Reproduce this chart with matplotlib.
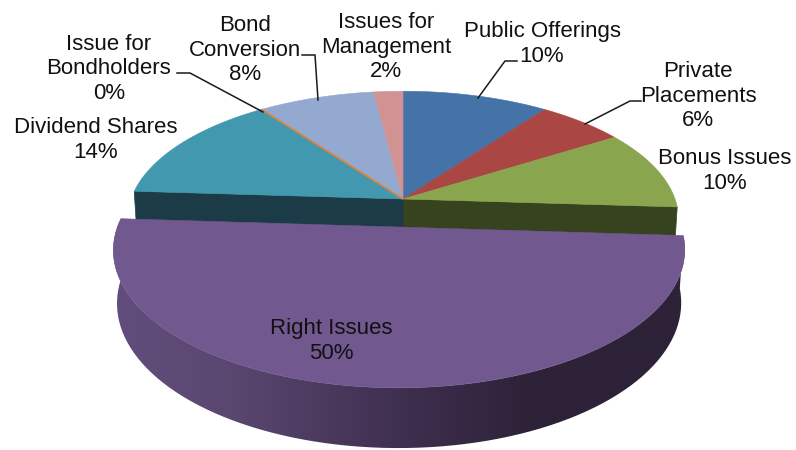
import numpy as np
import matplotlib
matplotlib.use('Agg')
import matplotlib.pyplot as plt
from matplotlib.colors import to_rgb
from matplotlib.patches import Polygon

# issue types, clockwise from 12 o'clock
names = ['Public Offerings', 'Private\nPlacements', 'Bonus Issues', 'Right Issues',
         'Dividend Shares', 'Issue for\nBondholders', 'Bond\nConversion', 'Issues for\nManagement']
shares = [10, 6, 10, 50, 14, 0, 8, 2]

colors = ['#4572A7', '#AA4643', '#89A54E', '#71588F', '#4198AF', '#DB843D', '#93A9CF', '#D19392']
wall_colors = {2: '#37421F', 4: '#1B3C47'}
exploded = 3

# label centres in pixels
label_x = [542, 698, 725, 331, 96, 109, 245, 386]
label_y = [44, 96, 171, 341, 140, 69, 50, 47]

# leader lines as pixel paths
leaders = [
    ([517, 505, 478], [61, 61, 98]),
    ([641, 630, 585], [101, 101, 124]),
    ([177, 190, 263], [73, 73, 112]),
    ([302, 315, 318], [55, 55, 100]),
]

# disc projection
cx, cy = 403, 199
rx, ry = 272, 125
persp = 0.16
persp_z = 0.012
depth = 51.5
pull = 0.217


def project(px, py, z=0.0):
    w = 1 + persp * py + persp_z * z
    return cx + rx * px / w, cy + (-ry * py + depth * z) / w


def rim(start, end, n=120):
    a = np.radians(np.linspace(start, end, n))
    return np.sin(a), np.cos(a)


def offset(i, mid):
    if i != exploded:
        return 0.0, 0.0
    return pull * np.sin(np.radians(mid)), pull * np.cos(np.radians(mid))


def wall_gradient(x):
    stops_x = [120, 230, 400, 530, 690]
    stops = [to_rgb(c) for c in ['#614D7B', '#5A4770', '#3F2F50', '#2D2238', '#2D2238']]
    return np.stack([np.interp(x, stops_x, [s[j] for s in stops]) for j in range(3)], axis=-1)


fig = plt.figure(figsize=(7.96, 4.5), dpi=100)
ax = fig.add_axes([0, 0, 1, 1])

edges = np.cumsum([0] + shares) * 3.6

# cut faces of the slices either side of the pulled-out one
for i, a in [(2, edges[3]), (4, edges[4])]:
    px, py = np.sin(np.radians(a)), np.cos(np.radians(a))
    x0, y0 = project(0, 0)
    x1, y1 = project(px, py)
    x2, y2 = project(px, py, 1)
    x3, y3 = project(0, 0, 1)
    ax.fill([x0, x1, x2, x3], [y0, y1, y2, y3], color=wall_colors[i], lw=0.5, zorder=1)

# flat tops of the back slices
for i in range(len(shares)):
    if i == exploded:
        continue
    px, py = rim(edges[i], edges[i + 1])
    x, y = project(px, py)
    xs = np.r_[cx, x]
    ys = np.r_[cy, y]
    lw = 1.3 if shares[i] == 0 else 0.4
    ax.fill(xs, ys, facecolor=colors[i], edgecolor=colors[i], lw=lw, zorder=3 if shares[i] == 0 else 2)

# pulled-out slice: shaded outer wall, then the top
mid = (edges[exploded] + edges[exploded + 1]) / 2
dx, dy = offset(exploded, mid)
px, py = rim(edges[exploded], edges[exploded + 1], 90)
x_top, y_top = project(px + dx, py + dy)
x_bot, y_bot = project(px + dx, py + dy, 1)

wall = Polygon(np.c_[np.r_[x_top, x_bot[::-1]], np.r_[y_top, y_bot[::-1]]], closed=True,
               transform=ax.transData, fc='none', ec='none')
ax.add_patch(wall)
gx = np.arange(100, 700)
shade = ax.imshow(wall_gradient(gx)[None, :, :], extent=(100, 700, 450, 200), aspect='auto',
                  interpolation='bilinear', zorder=4)
shade.set_clip_path(wall)

x0, y0 = project(dx, dy)
ax.fill(np.r_[x0, x_top], np.r_[y0, y_top], facecolor=colors[exploded],
        edgecolor=colors[exploded], lw=0.4, zorder=5)

for lx, ly in leaders:
    ax.plot(lx, ly, color='#1a1a1a', lw=1.1, zorder=6, solid_joinstyle='miter')

for name, share, tx, ty in zip(names, shares, label_x, label_y):
    ax.text(tx, ty, '%s\n%d%%' % (name, share), ha='center', va='center', multialignment='center',
            family=['Liberation Sans', 'DejaVu Sans'], fontsize=16, color='#111111',
            linespacing=1.2, zorder=7)

ax.set_xlim(0, 796)
ax.set_ylim(450, 0)
ax.axis('off')

plt.savefig('out.png', dpi=100)
plt.close()
